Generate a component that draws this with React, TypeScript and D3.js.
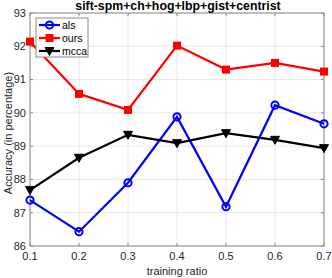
import * as d3 from "d3";
import React from "react";

const ratios = [0.1, 0.2, 0.3, 0.4, 0.5, 0.6, 0.7];
const alsValues = [87.38, 86.43, 87.9, 89.88, 87.18, 90.23, 89.67];
const oursValues = [92.14, 90.57, 90.09, 92.02, 91.3, 91.5, 91.24];
const mccaValues = [87.68, 88.65, 89.34, 89.09, 89.39, 89.19, 88.94];
const xTickValues = [0.1, 0.2, 0.3, 0.4, 0.5, 0.6, 0.7];
const yTickValues = [86, 87, 88, 89, 90, 91, 92, 93];

type Marker = "circle" | "square" | "triangle";

const series: { name: string; values: number[]; color: string; marker: Marker }[] = [
  { name: "als", values: alsValues, color: "#0000ff", marker: "circle" },
  { name: "ours", values: oursValues, color: "#ff0000", marker: "square" },
  { name: "mcca", values: mccaValues, color: "#000000", marker: "triangle" },
];

function MarkerShape({ type, x, y, color }: { type: Marker; x: number; y: number; color: string }) {
  if (type === "circle") {
    return <circle cx={x} cy={y} r={3.6} fill="none" stroke={color} strokeWidth={2} />;
  }
  if (type === "square") {
    return <rect x={x - 4} y={y - 4} width={8} height={8} fill={color} />;
  }
  return (
    <path
      d={`M${x - 4.5},${y - 3.5} L${x + 4.5},${y - 3.5} L${x},${y + 4.5} Z`}
      fill={color}
      stroke={color}
      strokeWidth={1}
    />
  );
}

export default function App() {
  const width = 332;
  const height = 278;
  const marginLeft = 30;
  const marginRight = 8;
  const marginTop = 13;
  const marginBottom = 32;

  const x = d3.scaleLinear([0.1, 0.7], [marginLeft, width - marginRight]);
  const y = d3.scaleLinear([86, 93], [height - marginBottom, marginTop]);

  const line = d3
    .line<number>()
    .x((_, i) => x(ratios[i]))
    .y((d) => y(d));

  const font = "'Liberation Sans', Arial, sans-serif";
  const textColor = "#262626";
  const axisColor = "#8a8a8a";

  return (
    <svg
      width={width}
      height={height}
      style={{ position: "absolute", left: 0, top: 0, background: "#fff" }}
      fontFamily={font}
    >
      {/* grid */}
      <g stroke="#e8e8e8" strokeWidth={1}>
        {xTickValues.map((t) => (
          <line key={`gx${t}`} x1={x(t)} x2={x(t)} y1={y(86)} y2={y(93)} />
        ))}
        {yTickValues.map((t) => (
          <line key={`gy${t}`} x1={x(0.1)} x2={x(0.7)} y1={y(t)} y2={y(t)} />
        ))}
      </g>

      {/* axes box */}
      <rect
        x={x(0.1)}
        y={y(93)}
        width={x(0.7) - x(0.1)}
        height={y(86) - y(93)}
        fill="none"
        stroke={axisColor}
        strokeWidth={1}
      />
      <g stroke={axisColor}>
        {xTickValues.map((t) => (
          <g key={`tx${t}`}>
            <line x1={x(t)} x2={x(t)} y1={y(86)} y2={y(86) - 3} />
            <line x1={x(t)} x2={x(t)} y1={y(93)} y2={y(93) + 3} />
          </g>
        ))}
        {yTickValues.map((t) => (
          <g key={`ty${t}`}>
            <line x1={x(0.1)} x2={x(0.1) + 3} y1={y(t)} y2={y(t)} />
            <line x1={x(0.7)} x2={x(0.7) - 3} y1={y(t)} y2={y(t)} />
          </g>
        ))}
      </g>

      {/* tick labels */}
      <g fontSize={11} fill={textColor}>
        {xTickValues.map((t) => (
          <text key={`lx${t}`} x={x(t)} y={y(86) + 14} textAnchor="middle">
            {t.toFixed(1)}
          </text>
        ))}
        {yTickValues.map((t) => (
          <text key={`ly${t}`} x={x(0.1) - 4} y={y(t)} dy="0.35em" textAnchor="end">
            {t}
          </text>
        ))}
      </g>

      <text x={(x(0.1) + x(0.7)) / 2} y={height - 3} textAnchor="middle" fontSize={11} fill={textColor}>
        training ratio
      </text>
      <text
        transform={`translate(12,133) rotate(-90)`}
        textAnchor="middle"
        fontSize={11}
        fill={textColor}
      >
        Accuracy (in percentage)
      </text>
      <text
        x={178}
        y={10}
        textAnchor="middle"
        fontSize={12.3}
        fontWeight="bold"
        fill="#000"
      >
        sift-spm+ch+hog+lbp+gist+centrist
      </text>

      {/* series */}
      {series.map((s) => (
        <g key={s.name}>
          <path d={line(s.values) ?? ""} fill="none" stroke={s.color} strokeWidth={2.2} />
          {s.values.map((v, i) => (
            <MarkerShape key={i} type={s.marker} x={x(ratios[i])} y={y(v)} color={s.color} />
          ))}
        </g>
      ))}

      {/* legend */}
      <g>
        <rect x={36} y={18} width={52} height={39} fill="#fff" stroke={axisColor} strokeWidth={1} />
        {series.map((s, i) => {
          const ly = 25 + i * 13;
          return (
            <g key={`leg${s.name}`}>
              <line x1={39} x2={60} y1={ly} y2={ly} stroke={s.color} strokeWidth={2.2} />
              <MarkerShape type={s.marker} x={49.5} y={ly} color={s.color} />
              <text x={62} y={ly} dy="0.35em" fontSize={10.5} fill="#000">
                {s.name}
              </text>
            </g>
          );
        })}
      </g>
    </svg>
  );
}
